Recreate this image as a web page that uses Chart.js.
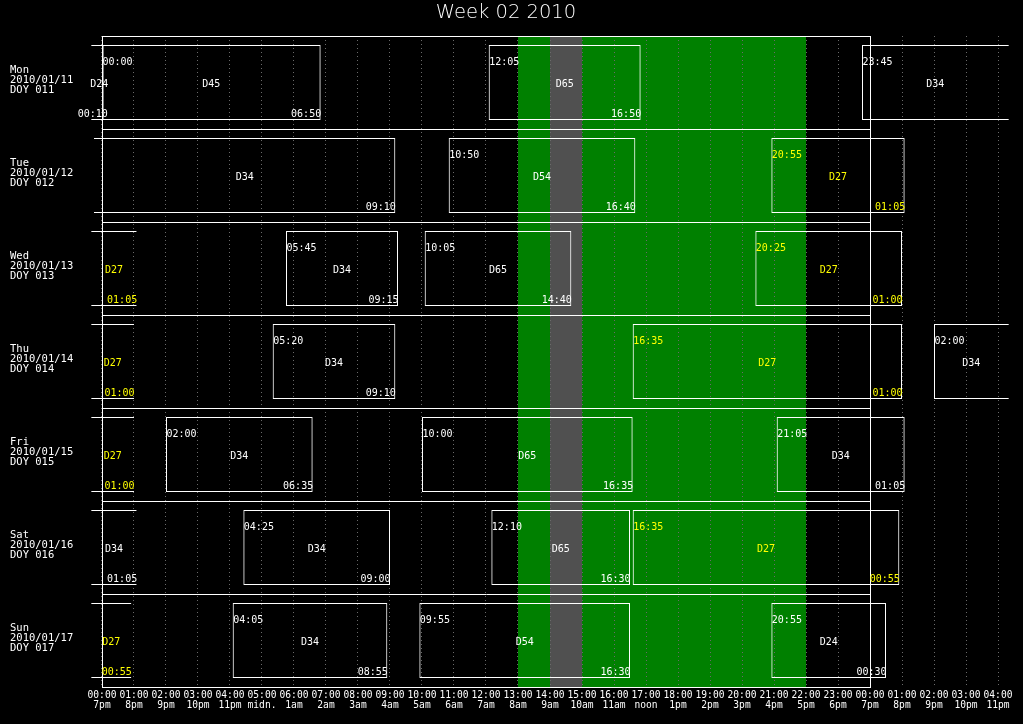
<!DOCTYPE html>
<html><head><meta charset="utf-8">
<script src="https://cdn.jsdelivr.net/npm/chart.js@4.4.1/dist/chart.umd.min.js"></script>
<style>html,body{margin:0;padding:0;background:#000;overflow:hidden}canvas{display:block}</style>
</head><body>
<canvas id="c" width="1023" height="724"></canvas>
<script>
// ---------------- data ----------------
const chartTitle = 'Week 02 2010';
const days  = ['Mon', 'Tue', 'Wed', 'Thu', 'Fri', 'Sat', 'Sun'];
const dates = ['2010/01/11', '2010/01/12', '2010/01/13', '2010/01/14', '2010/01/15', '2010/01/16', '2010/01/17'];
const doys  = ['DOY 011', 'DOY 012', 'DOY 013', 'DOY 014', 'DOY 015', 'DOY 016', 'DOY 017'];

const hourTicks = [0,1,2,3,4,5,6,7,8,9,10,11,12,13,14,15,16,17,18,19,20,21,22,23,24,25,26,27,28];
const utcLabels = ['00:00','01:00','02:00','03:00','04:00','05:00','06:00','07:00','08:00','09:00',
  '10:00','11:00','12:00','13:00','14:00','15:00','16:00','17:00','18:00','19:00','20:00','21:00',
  '22:00','23:00','00:00','01:00','02:00','03:00','04:00'];
const localLabels = ['7pm','8pm','9pm','10pm','11pm','midn.','1am','2am','3am','4am','5am','6am','7am',
  '8am','9am','10am','11am','noon','1pm','2pm','3pm','4pm','5pm','6pm','7pm','8pm','9pm','10pm','11pm'];

// sessions: hours relative to the row's midnight (negative = previous day, >24 = next day)
const sessDay   = ['Mon','Mon','Mon','Mon', 'Tue','Tue','Tue', 'Wed','Wed','Wed','Wed',
                   'Thu','Thu','Thu','Thu', 'Fri','Fri','Fri','Fri', 'Sat','Sat','Sat','Sat',
                   'Sun','Sun','Sun','Sun'];
const sessName  = ['D24','D45','D65','D34', 'D34','D54','D27', 'D27','D34','D65','D27',
                   'D27','D34','D27','D34', 'D27','D34','D65','D34', 'D34','D34','D65','D27',
                   'D27','D34','D54','D24'];
const sessStart = ['-01:00','00:00','12:05','23:45', '-00:15','10:50','20:55', '-03:05','05:45','10:05','20:25',
                   '-03:35','05:20','16:35','26:00', '-07:25','02:00','10:00','21:05', '-02:55','04:25','12:10','16:35',
                   '-07:25','04:05','09:55','20:55'];
const sessEnd   = ['00:10','06:50','16:50','33:10', '09:10','16:40','25:05', '01:05','09:15','14:40','25:00',
                   '01:00','09:10','25:00','30:35', '01:00','06:35','16:35','25:05', '01:05','09:00','16:30','24:55',
                   '00:55','08:55','16:30','24:30'];
const highlightStation = 'D27';

const greenBand = [13, 22];
const grayBand  = [14, 15];
const xMin = -20 / 60, xMax = 28 + 20 / 60;

// ---------------- helpers ----------------
function toHours(s) {
  const neg = s[0] === '-';
  const p = s.replace('-', '').split(':').map(Number);
  const v = p[0] + p[1] / 60;
  return neg ? -v : v;
}
function fmt(h) {
  let m = Math.round(h * 60);
  m = ((m % 1440) + 1440) % 1440;
  const hh = Math.floor(m / 60), mm = m % 60;
  return String(hh).padStart(2, '0') + ':' + String(mm).padStart(2, '0');
}
const starts = sessStart.map(toHours);
const ends = sessEnd.map(toHours);
const barData = sessName.map((n, i) => ({ y: sessDay[i], x: [starts[i], ends[i]] }));

const MONO = '"DejaVu Sans Mono", "Liberation Mono", monospace';

const bgPlugin = {
  id: 'bg',
  beforeDraw(chart) {
    const { ctx, chartArea: a, scales: { x } } = chart;
    ctx.save();
    ctx.fillStyle = '#000';
    ctx.fillRect(0, 0, chart.width, chart.height);
    ctx.fillStyle = '#008000';
    const g0 = x.getPixelForValue(greenBand[0]), g1 = x.getPixelForValue(greenBand[1]);
    ctx.fillRect(g0, a.top, g1 - g0, a.bottom - a.top);
    ctx.fillStyle = '#505050';
    const r0 = x.getPixelForValue(grayBand[0]), r1 = x.getPixelForValue(grayBand[1]);
    ctx.fillRect(r0, a.top, r1 - r0, a.bottom - a.top);
    ctx.restore();
  }
};

const overlayPlugin = {
  id: 'overlay',
  afterDatasetsDraw(chart) {
    const { ctx, chartArea: a, scales: { x, y } } = chart;
    ctx.save();
    // frame (one day) and row separators
    const f0 = Math.round(x.getPixelForValue(0)), f1 = Math.round(x.getPixelForValue(24));
    ctx.strokeStyle = '#fff';
    ctx.lineWidth = 1;
    ctx.strokeRect(f0 + 0.5, a.top + 0.5, f1 - f0, a.bottom - a.top);
    const pitch = (a.bottom - a.top) / days.length;
    ctx.beginPath();
    for (let i = 1; i < days.length; i++) {
      const yy = Math.round(a.top + pitch * i) + 0.5;
      ctx.moveTo(f0, yy); ctx.lineTo(f1 + 1, yy);
    }
    ctx.stroke();

    // session labels
    const meta = chart.getDatasetMeta(0);
    ctx.font = '10px ' + MONO;
    sessName.forEach((name, i) => {
      const el = meta.data[i];
      const top = el.y - el.height / 2;
      const ps = x.getPixelForValue(starts[i]), pe = x.getPixelForValue(ends[i]);
      const vs = Math.max(ps, a.left), ve = Math.min(pe, a.right);
      ctx.fillStyle = name === highlightStation ? '#ffff00' : '#ffffff';
      ctx.textBaseline = 'alphabetic';
      if (starts[i] >= 0 && starts[i] <= xMax) {
        ctx.textAlign = 'left';
        ctx.fillText(fmt(starts[i]), ps + 0.5, top + 20);
      }
      ctx.textAlign = 'center';
      ctx.fillText(name, (vs + ve) / 2, top + 42);
      if (ends[i] <= xMax) {
        ctx.textAlign = 'right';
        ctx.fillText(fmt(ends[i]), pe + 0.5, top + 72);
      }
    });

    // row labels
    ctx.fillStyle = '#fff';
    ctx.textAlign = 'left';
    ctx.textBaseline = 'alphabetic';
    ctx.font = '10.5px ' + MONO;
    days.forEach((d, i) => {
      const c = y.getPixelForValue(i);
      ctx.fillText(d, 10, c - 9.5);
      ctx.fillText(dates[i], 10, c + 0.5);
      ctx.fillText(doys[i], 10, c + 10.5);
    });

    // title
    ctx.font = '200 19.5px "DejaVu Sans", sans-serif';
    ctx.textAlign = 'center';
    ctx.fillText(chartTitle, 506, 17.5);
    ctx.restore();
  }
};

new Chart(document.getElementById('c'), {
  type: 'bar',
  data: {
    labels: days,
    datasets: [{
      data: barData,
      backgroundColor: 'rgba(0,0,0,0)',
      borderColor: '#ffffff',
      borderWidth: 1,
      borderSkipped: c => (starts[c.dataIndex] < 0 ? 'left' : false),
      barPercentage: 75 / 93,
      categoryPercentage: 1,
      clip: 0
    }]
  },
  options: {
    indexAxis: 'y',
    responsive: false,
    animation: false,
    events: [],
    devicePixelRatio: 1,
    layout: { padding: { left: 91.333, right: 14.333, top: 36, bottom: 0 } },
    plugins: { legend: { display: false }, tooltip: { enabled: false }, title: { display: false } },
    scales: {
      x: {
        type: 'linear',
        min: xMin,
        max: xMax,
        afterBuildTicks: s => { s.ticks = hourTicks.map(v => ({ value: v })); },
        afterFit: s => { s.height = 37; },
        ticks: {
          autoSkip: false, maxRotation: 0, minRotation: 0,
          color: '#ffffff', padding: 3,
          font: { family: MONO, size: 9.6, lineHeight: 1.05 },
          callback: (v, i) => [utcLabels[i], localLabels[i]]
        },
        grid: { color: '#6a6a6a', lineWidth: 1, drawTicks: false },
        border: { display: false, dash: [1, 3] }
      },
      y: { display: false, offset: true }
    }
  },
  plugins: [bgPlugin, overlayPlugin]
});
</script>
</body></html>
